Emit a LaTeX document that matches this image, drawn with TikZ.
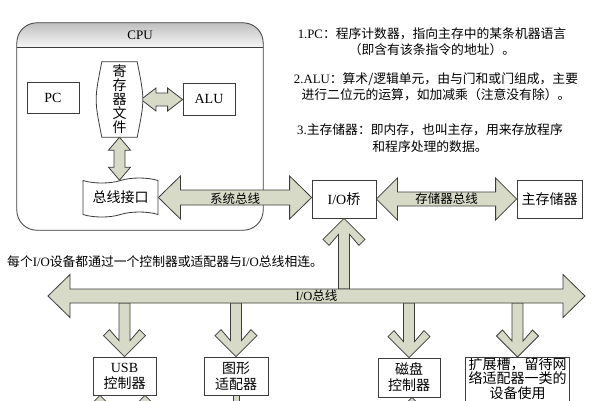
\documentclass[tikz,border=0pt]{standalone}
\usepackage{fontspec}
\setmainfont{Noto Sans CJK SC}
\newfontfamily\lat{Liberation Serif}
\usetikzlibrary{calc,shapes.symbols}
\definecolor{arrowC}{RGB}{214,218,198}
\definecolor{lineC}{RGB}{60,60,60}
\pgfdeclarelayer{bg}
\pgfsetlayers{bg,main}
\newcommand\boxfont{\fontsize{14}{16}\selectfont}
\newcommand\notefont{\fontsize{12.8}{16.5}\selectfont}
\newcommand\lblfont{\fontsize{12.5}{14}\selectfont}
% horizontal double block arrow: #1 left point, #2 right point, #3 head length, #4 head half width, #5 shaft half width
\newcommand\hdbl[5]{\path[blk] let \p1=#1, \p2=#2 in (\x1,\y1) -- ({\x1+#3pt},{\y1+#4pt}) -- ({\x1+#3pt},{\y1+#5pt}) -- ({\x2-#3pt},{\y1+#5pt}) -- ({\x2-#3pt},{\y1+#4pt}) -- (\x2,\y1) -- ({\x2-#3pt},{\y1-#4pt}) -- ({\x2-#3pt},{\y1-#5pt}) -- ({\x1+#3pt},{\y1-#5pt}) -- ({\x1+#3pt},{\y1-#4pt}) -- cycle;}
% vertical double block arrow: #1 top point, #2 bottom point
\newcommand\vdbl[5]{\path[blk] let \p1=#1, \p2=#2 in (\x1,\y1) -- ({\x1+#4pt},{\y1-#3pt}) -- ({\x1+#5pt},{\y1-#3pt}) -- ({\x1+#5pt},{\y2+#3pt}) -- ({\x1+#4pt},{\y2+#3pt}) -- (\x1,\y2) -- ({\x1-#4pt},{\y2+#3pt}) -- ({\x1-#5pt},{\y2+#3pt}) -- ({\x1-#5pt},{\y1-#3pt}) -- ({\x1-#4pt},{\y1-#3pt}) -- cycle;}
% vertical chevron arrow: #1 tail, #2 tip, #3 = 1 pointing down, -1 pointing up
\newcommand\chev[3]{\path[blk] let \p1=#1, \p2=#2 in ({\x2-5.5pt},\y1) -- ({\x2-5.5pt},{\y2+#3*16pt}) -- ({\x2-15pt},{\y2+#3*27pt}) -- ({\x2-21pt},{\y2+#3*21pt}) -- (\x2,\y2) -- ({\x2+21pt},{\y2+#3*21pt}) -- ({\x2+15pt},{\y2+#3*27pt}) -- ({\x2+5.5pt},{\y2+#3*16pt}) -- ({\x2+5.5pt},\y1) -- cycle;}
\tikzset{
  box/.style={draw=lineC, line width=0.8pt, fill=white, inner sep=0pt, align=center, font=\boxfont},
  blk/.style={draw=lineC, fill=arrowC, line width=0.8pt, line join=miter},
  lbl/.style={inner sep=0pt, font=\lblfont},
  note/.style={inner sep=0pt, align=center, font=\notefont},
}
\begin{document}
\begin{tikzpicture}[x=1pt,y=-1pt]
\useasboundingbox (0,0) rectangle (609,400);
\clip (0,0) rectangle (609,400);
% ---------- nodes ----------
\node[minimum width=246pt, minimum height=207pt, inner sep=0pt] (cpu) at (140,126.5) {};
\node[font=\lat\fontsize{13}{15}\selectfont, inner sep=0pt] (cpul) at ($(cpu.north)+(0,12)$) {CPU};
\node[box, minimum width=52pt, minimum height=31pt] (pc) at (53,97.5) {\lat PC};
\node[minimum width=35pt, minimum height=75pt, inner sep=0pt] (reg) at (119.5,99.5) {};
\draw[lineC, line width=0.8pt, fill=white] (reg.north west) .. controls ($(reg.west)+(-7.5,0)$) .. (reg.south west) -- (reg.south east) .. controls ($(reg.east)+(7.5,0)$) .. (reg.north east) -- cycle;
\node[inner sep=0pt, align=center, font=\fontsize{14}{14}\selectfont] (regt) at (reg.center) {寄\\存\\器\\文\\件};
\node[box, minimum width=52pt, minimum height=32pt] (alu) at (209,99) {\lat ALU};
\node[tape, draw=lineC, line width=0.8pt, fill=white, minimum width=75pt, minimum height=39pt, inner sep=0pt, font=\boxfont] (bif) at (120.5,197.5) {总线接口};
\node[box, minimum width=64pt, minimum height=38pt] (iob) at (344,199) {{\lat I/O}桥};
\node[box, minimum width=65pt, minimum height=38pt] (mem) at (549.5,199) {主存储器};
\node[box, minimum width=63pt, minimum height=38pt] (usb) at (124.5,376) {{\lat USB}\\控制器};
\node[box, minimum width=64pt, minimum height=38pt] (gfx) at (236,376) {图形\\适配器};
\node[box, minimum width=62pt, minimum height=39pt] (disk) at (409,377.5) {磁盘\\控制器};
\node[box, draw=none, fill=none, minimum width=103pt, minimum height=42pt, anchor=north, font=\fontsize{14}{14.5}\selectfont] (ext) at (517.5,357) {扩展槽，留待网\\络适配器一类的\\设备使用};
\draw[lineC, line width=0.8pt] (ext.north west) rectangle ($(ext.south east)+(0,12)$);
\coordinate (regE) at ($(reg.east)+(3.8,0)$);
\coordinate (busL) at (48,296);
\coordinate (busR) at (585,296);
\coordinate (busT) at (0,289);
\coordinate (busB) at (0,303);
\coordinate (u1) at (100,440);
\coordinate (u2) at (145,440);
\coordinate (d1) at (412,440);
% ---------- labels on buses ----------
\node[lbl] (sysl) at ($(bif.east)!0.5!(iob.west)$) {系统总线};
\node[lbl] (meml) at ($(iob.east)!0.5!(mem.west)$) {存储器总线};
\node[lbl] (busl) at ($(busL)!0.5!(busR)$) {{\lat I/O}总线};
% ---------- notes ----------
\node[note] (n1) at (432,41.5) {{\lat 1.PC}：程序计数器，指向主存中的某条机器语言\\（即含有该条指令的地址）。};
\node[note] (n2) at (436,87) {{\lat 2.ALU}：算术/逻辑单元，由与门和或门组成，主要\\进行二位元的运算，如加减乘（注意没有除）。};
\node[note] (n3) at (430,138) {{\lat 3.}主存储器：即内存，也叫主存，用来存放程序\\和程序处理的数据。};
\node[anchor=west, inner sep=0pt, font=\notefont] (io) at (7,262) {每个{\lat I/O}设备都通过一个控制器或适配器与{\lat I/O}总线相连。};
% ---------- background layer: CPU frame and arrows ----------
\begin{pgfonlayer}{bg}
\begin{scope}
\clip (0,0) rectangle (609,400);
\begin{scope}
\clip[rounded corners=20pt] (cpu.south west) rectangle (cpu.north east);
\shade[top color=black!25, bottom color=black!3] (cpu.north west) rectangle ($(cpu.north east)+(0,25)$);
\end{scope}
\draw[lineC, line width=0.8pt] ($(cpu.north west)+(0,25)$) -- ($(cpu.north east)+(0,25)$);
\draw[lineC, line width=0.8pt, rounded corners=20pt] (cpu.south west) rectangle (cpu.north east);
\hdbl{(regE)}{(alu.west)}{15}{11.5}{6.5}
\vdbl{(reg.south)}{(bif.north)}{13}{11}{5.5}
\hdbl{(bif.east)}{(iob.west)}{22}{21.5}{7.5}
\hdbl{(iob.east)}{(mem.west)}{21}{21}{7}
\chev{(iob.south |- busT)}{(iob.south)}{-1}
\chev{(usb.north |- busB)}{(usb.north)}{1}
\chev{(gfx.north |- busB)}{(gfx.north)}{1}
\chev{(disk.north |- busB)}{(disk.north)}{1}
\chev{(ext.north |- busB)}{(ext.north)}{1}
\hdbl{(busL)}{(busR)}{22}{21.5}{7}
\chev{(u1)}{(u1 |- usb.south)}{-1}
\chev{(u2)}{(u2 |- usb.south)}{-1}
\chev{(d1)}{(d1 |- disk.south)}{-1}
\path[blk] ($(gfx.south)+(-3,0)$) rectangle ($(gfx.south)+(3,30)$);
\end{scope}
\end{pgfonlayer}
\end{tikzpicture}
\end{document}
